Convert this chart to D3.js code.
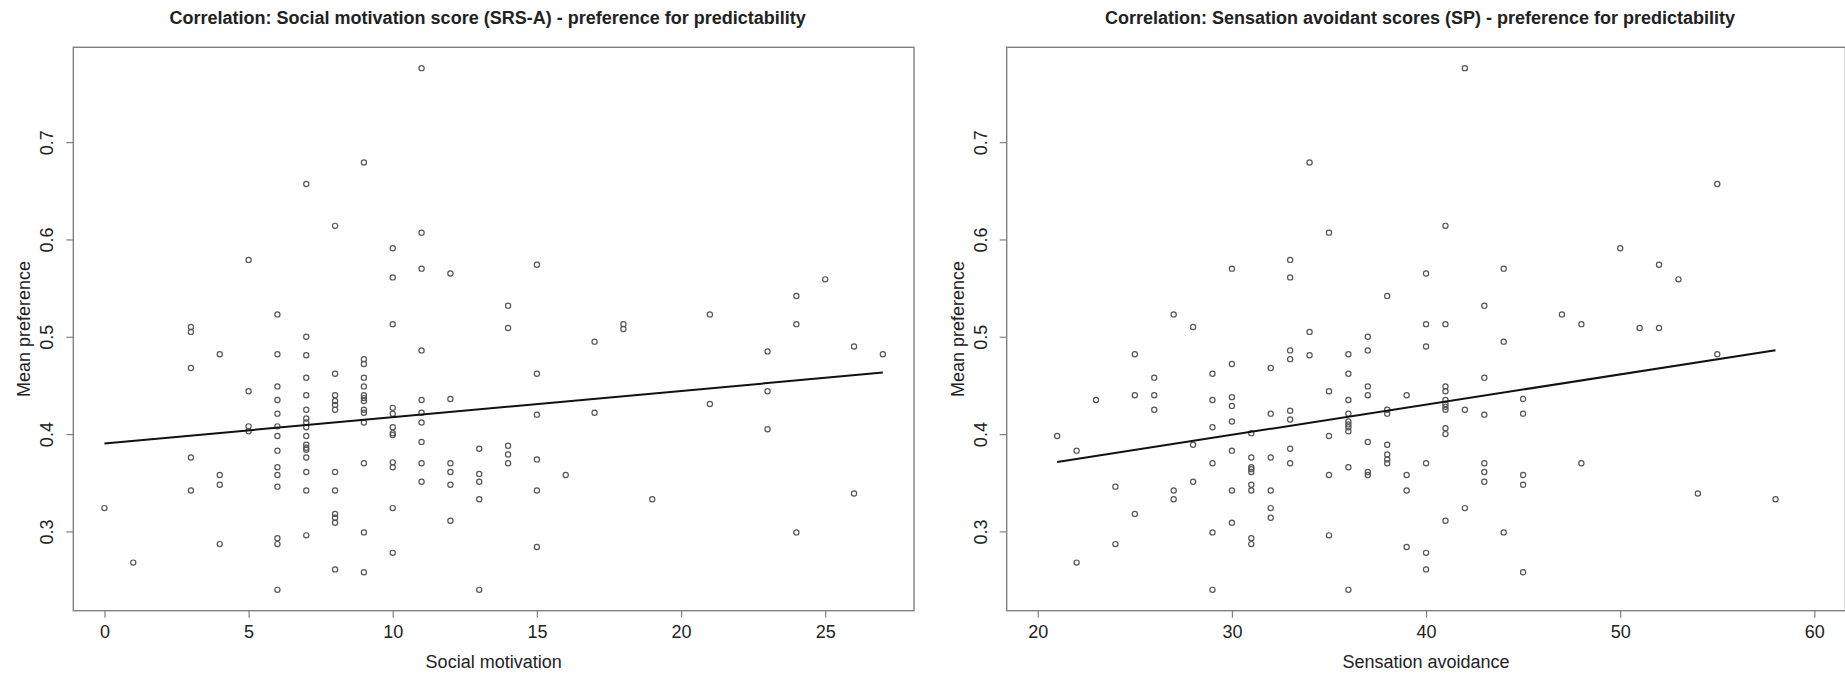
<!DOCTYPE html>
<html>
<head>
<meta charset="utf-8">
<script src="https://cdn.jsdelivr.net/npm/d3@7"></script>
<style>
  body { margin: 0; background: #fff; }
  svg { display: block; font-family: "Liberation Sans", Arial, sans-serif; }
</style>
</head>
<body>
<svg width="1845" height="674"></svg>
<script>
// left panel: social motivation score vs mean preference
var socialX = [0, 1,
  3, 3, 3, 3, 3,
  4, 4, 4, 4,
  5, 5, 5, 5,
  6, 6, 6, 6, 6, 6, 6, 6, 6, 6, 6, 6, 6, 6,
  7, 7, 7, 7, 7, 7, 7, 7, 7, 7, 7, 7, 7, 7, 7, 7, 7,
  8, 8, 8, 8, 8, 8, 8, 8, 8, 8, 8, 8,
  9, 9, 9, 9, 9, 9, 9, 9, 9, 9, 9, 9, 9, 9,
  10, 10, 10, 10, 10, 10, 10, 10, 10, 10, 10, 10,
  11, 11, 11, 11, 11, 11, 11, 11, 11, 11,
  12, 12, 12, 12, 12, 12,
  13, 13, 13, 13, 13,
  14, 14, 14, 14, 14,
  15, 15, 15, 15, 15, 15,
  16, 17, 17, 18, 18, 19, 21, 21,
  23, 23, 23, 24, 24, 24, 25, 26, 26, 27];
var socialY = [0.324, 0.268,
  0.510, 0.505, 0.468, 0.376, 0.342,
  0.482, 0.358, 0.348, 0.287,
  0.579, 0.444, 0.408, 0.403,
  0.523, 0.482, 0.449, 0.435, 0.421, 0.408, 0.398, 0.383, 0.366, 0.358, 0.346, 0.293, 0.287, 0.240,
  0.657, 0.500, 0.481, 0.458, 0.440, 0.425, 0.416, 0.412, 0.407, 0.398, 0.389, 0.386, 0.384, 0.376, 0.361, 0.342, 0.296,
  0.614, 0.462, 0.440, 0.434, 0.430, 0.425, 0.361, 0.342, 0.318, 0.314, 0.309, 0.261,
  0.679, 0.477, 0.472, 0.458, 0.449, 0.440, 0.437, 0.434, 0.425, 0.422, 0.412, 0.370, 0.299, 0.258,
  0.591, 0.561, 0.513, 0.427, 0.421, 0.407, 0.401, 0.399, 0.371, 0.366, 0.324, 0.278,
  0.776, 0.607, 0.570, 0.486, 0.435, 0.422, 0.412, 0.392, 0.370, 0.351,
  0.565, 0.436, 0.370, 0.361, 0.348, 0.311,
  0.385, 0.359, 0.351, 0.333, 0.240,
  0.532, 0.509, 0.388, 0.379, 0.370,
  0.574, 0.462, 0.420, 0.374, 0.342, 0.284,
  0.358, 0.495, 0.422, 0.513, 0.508, 0.333, 0.523, 0.431,
  0.485, 0.444, 0.405, 0.542, 0.513, 0.299, 0.559, 0.490, 0.339, 0.482];

// right panel: sensation avoidance vs mean preference
var sensX = [21, 22, 22, 23, 24, 24,
  25, 25, 25, 26, 26, 26, 27, 27, 27, 28, 28, 28,
  29, 29, 29, 29, 29, 29,
  30, 30, 30, 30, 30, 30, 30, 30,
  31, 31, 31, 31, 31, 31, 31, 31, 31,
  32, 32, 32, 32, 32, 32,
  33, 33, 33, 33, 33, 33, 33, 33,
  34, 34, 34,
  35, 35, 35, 35, 35,
  36, 36, 36, 36, 36, 36, 36, 36, 36, 36,
  37, 37, 37, 37, 37, 37, 37,
  38, 38, 38, 38, 38, 38, 38,
  39, 39, 39, 39,
  40, 40, 40, 40, 40, 40,
  41, 41, 41, 41, 41, 41, 41, 41, 41, 41, 41,
  42, 42, 42,
  43, 43, 43, 43, 43, 43,
  44, 44, 44,
  45, 45, 45, 45, 45,
  47, 48, 48, 50, 51, 52, 52, 53, 54, 55, 55, 58];
var sensY = [0.398, 0.383, 0.268, 0.435, 0.346, 0.287,
  0.482, 0.440, 0.318, 0.458, 0.440, 0.425, 0.523, 0.342, 0.333, 0.510, 0.389, 0.351,
  0.462, 0.435, 0.407, 0.370, 0.299, 0.240,
  0.570, 0.472, 0.438, 0.429, 0.413, 0.383, 0.342, 0.309,
  0.401, 0.376, 0.366, 0.364, 0.361, 0.348, 0.342, 0.293, 0.287,
  0.468, 0.421, 0.376, 0.342, 0.324, 0.314,
  0.579, 0.561, 0.486, 0.477, 0.424, 0.415, 0.385, 0.370,
  0.679, 0.505, 0.481,
  0.607, 0.444, 0.398, 0.358, 0.296,
  0.482, 0.462, 0.435, 0.421, 0.413, 0.410, 0.407, 0.403, 0.366, 0.240,
  0.500, 0.486, 0.449, 0.440, 0.392, 0.361, 0.358,
  0.542, 0.425, 0.421, 0.389, 0.379, 0.374, 0.370,
  0.440, 0.358, 0.342, 0.284,
  0.565, 0.513, 0.490, 0.370, 0.278, 0.261,
  0.614, 0.513, 0.449, 0.444, 0.435, 0.431, 0.428, 0.425, 0.406, 0.400, 0.311,
  0.776, 0.425, 0.324,
  0.532, 0.458, 0.420, 0.370, 0.361, 0.351,
  0.570, 0.495, 0.299,
  0.436, 0.421, 0.358, 0.348, 0.258,
  0.523, 0.513, 0.370, 0.591, 0.509, 0.574, 0.509, 0.559, 0.339, 0.657, 0.482, 0.333];

var socialTicks = [0, 5, 10, 15, 20, 25];
var sensTicks = [20, 30, 40, 50, 60];
var sensXlim = [20, 60];
var yTicks = [0.3, 0.4, 0.5, 0.6, 0.7];

var titles = ["Correlation: Social motivation score (SRS-A) - preference for predictability",
              "Correlation: Sensation avoidant scores (SP) - preference for predictability"];
var xLabels = ["Social motivation", "Sensation avoidance"];
var yLabel = "Mean preference";

var svg = d3.select("svg");

// R style axis range: data range stretched by 4% on each side
function padded(ext) {
  var d = (ext[1] - ext[0]) * 0.04;
  return [ext[0] - d, ext[1] + d];
}

// least squares fit
function fit(xs, ys) {
  var mx = d3.mean(xs), my = d3.mean(ys);
  var sxy = 0, sxx = 0;
  for (var i = 0; i < xs.length; i++) {
    sxy += (xs[i] - mx) * (ys[i] - my);
    sxx += (xs[i] - mx) * (xs[i] - mx);
  }
  var b = sxy / sxx;
  return { a: my - b * mx, b: b };
}

var yDomain = padded(d3.extent(socialY.concat(sensY)));

var panels = [
  { left: 73.3, right: 914, xs: socialX, ys: socialY, xdom: padded(d3.extent(socialX)), ticks: socialTicks, title: titles[0], xlab: xLabels[0] },
  { left: 1006.7, right: 1845.4, xs: sensX, ys: sensY, xdom: padded(sensXlim), ticks: sensTicks, title: titles[1], xlab: xLabels[1] }
];
var plotTop = 47.3, plotBottom = 610.7;
var font = "Liberation Sans, Arial, sans-serif";

panels.forEach(function(p) {
  var g = svg.append("g");
  var x = d3.scaleLinear().domain(p.xdom).range([p.left, p.right]);
  var y = d3.scaleLinear().domain(yDomain).range([plotBottom, plotTop]);

  // box
  g.append("rect")
    .attr("x", p.left).attr("y", plotTop)
    .attr("width", p.right - p.left).attr("height", plotBottom - plotTop)
    .attr("fill", "none").attr("stroke", "#808080").attr("stroke-width", 1.4);

  // x axis
  var xa = g.append("g")
    .attr("transform", "translate(0," + plotBottom + ")")
    .call(d3.axisBottom(x).tickValues(p.ticks).tickSize(7).tickSizeOuter(0).tickPadding(8).tickFormat(d3.format("d")));
  xa.select(".domain").remove();
  xa.selectAll("line").attr("stroke", "#808080").attr("stroke-width", 1.2);
  xa.selectAll("text").attr("font-size", 18).attr("fill", "#222").attr("font-family", font);

  // y axis
  var ya = g.append("g")
    .attr("transform", "translate(" + p.left + ",0)")
    .call(d3.axisLeft(y).tickValues(yTicks).tickSize(7).tickSizeOuter(0).tickFormat(d3.format(".1f")));
  ya.select(".domain").remove();
  ya.selectAll("line").attr("stroke", "#808080").attr("stroke-width", 1.2);
  ya.selectAll("text")
    .attr("font-size", 18).attr("fill", "#222").attr("font-family", font)
    .attr("x", null).attr("dy", null)
    .attr("text-anchor", "middle")
    .attr("transform", "translate(-20,0) rotate(-90)");

  // points
  g.append("g").selectAll("circle")
    .data(p.xs.map(function(d, i) { return [d, p.ys[i]]; }))
    .join("circle")
    .attr("cx", function(d) { return x(d[0]); })
    .attr("cy", function(d) { return y(d[1]); })
    .attr("r", 2.6)
    .attr("fill", "none")
    .attr("stroke", "#555")
    .attr("stroke-width", 1.2);

  // regression line over the data range
  var f = fit(p.xs, p.ys);
  g.append("path")
    .datum(d3.extent(p.xs))
    .attr("d", d3.line()
      .x(function(d) { return x(d); })
      .y(function(d) { return y(f.a + f.b * d); }))
    .attr("stroke", "#111").attr("stroke-width", 2).attr("fill", "none");

  // titles and labels
  g.append("text")
    .attr("x", (p.left + p.right) / 2 - 6).attr("y", 24)
    .attr("text-anchor", "middle")
    .attr("font-weight", "bold").attr("font-size", 18).attr("fill", "#222")
    .text(p.title);
  g.append("text")
    .attr("x", (p.left + p.right) / 2).attr("y", 668)
    .attr("text-anchor", "middle")
    .attr("font-size", 18).attr("fill", "#222")
    .text(p.xlab);
  g.append("text")
    .attr("transform", "translate(" + (p.left - 43) + "," + ((plotTop + plotBottom) / 2) + ") rotate(-90)")
    .attr("text-anchor", "middle")
    .attr("font-size", 18).attr("fill", "#222")
    .text(yLabel);
});
</script>
</body>
</html>
